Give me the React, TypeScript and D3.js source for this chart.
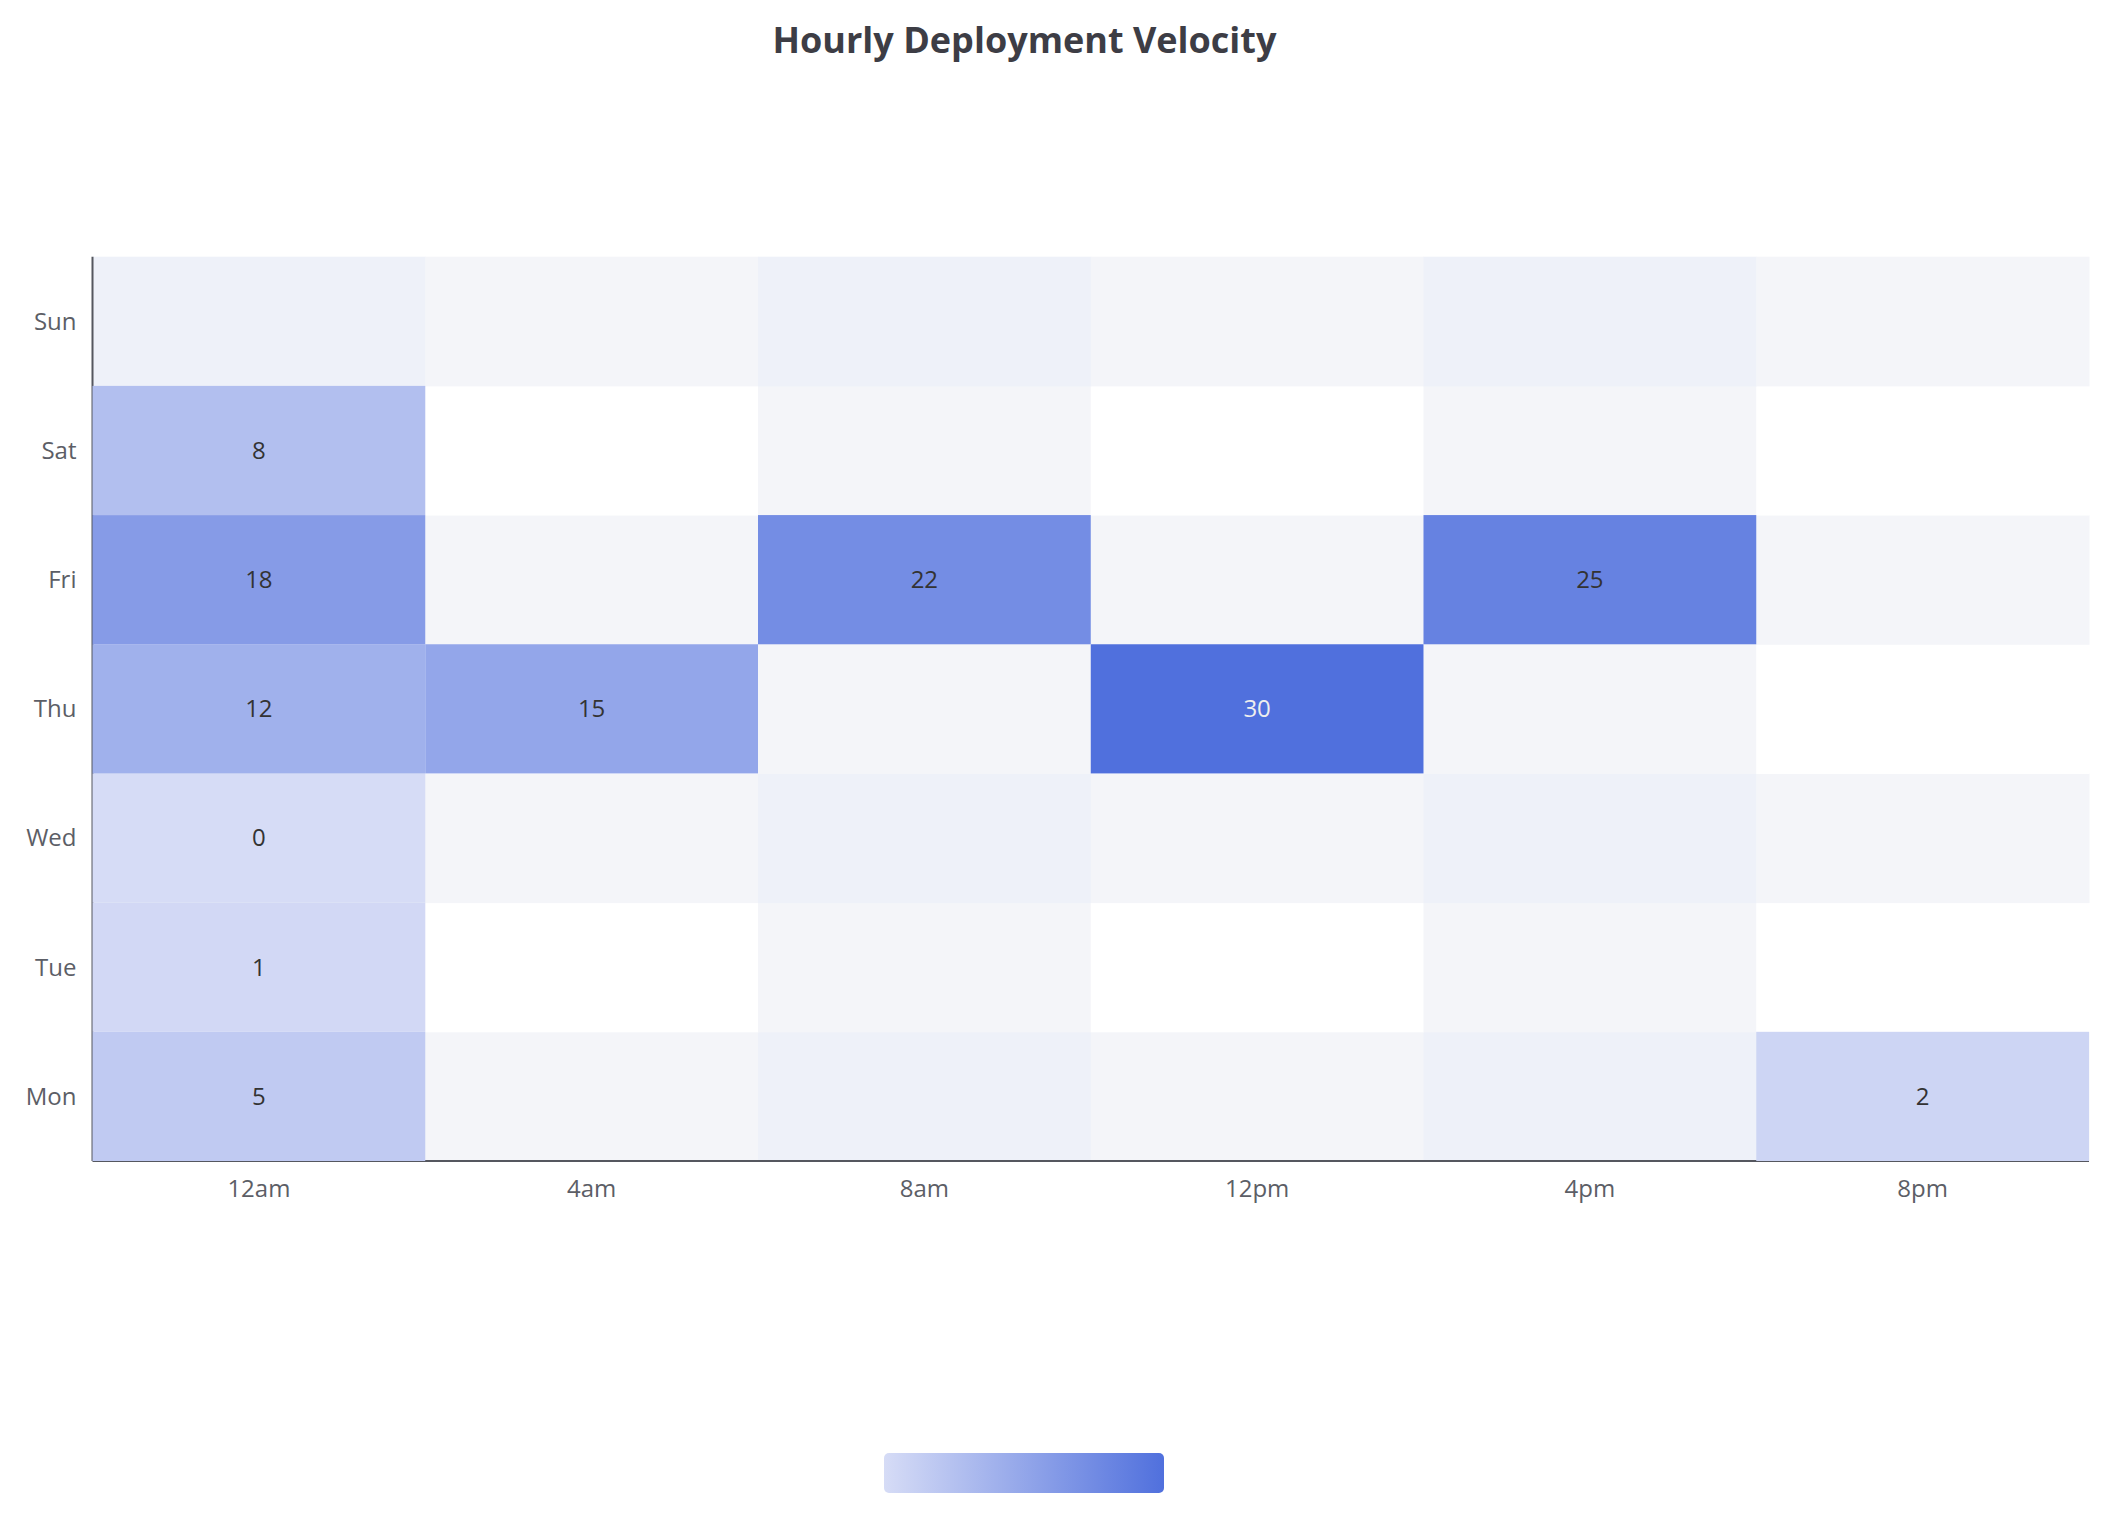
import * as d3 from 'd3';

const days = ['Mon', 'Tue', 'Wed', 'Thu', 'Fri', 'Sat', 'Sun'];
const hours = ['12am', '4am', '8am', '12pm', '4pm', '8pm'];

// [hour, day, deployments]
const deployments: [string, string, number][] = [
  ['12am', 'Mon', 5],
  ['8pm', 'Mon', 2],
  ['12am', 'Tue', 1],
  ['12am', 'Wed', 0],
  ['12am', 'Thu', 12],
  ['4am', 'Thu', 15],
  ['12pm', 'Thu', 30],
  ['12am', 'Fri', 18],
  ['8am', 'Fri', 22],
  ['4pm', 'Fri', 25],
  ['12am', 'Sat', 8],
];

const valueRange = [0, 30];
const rampColors = ['#d6dcf6', '#5070dd'];

const W = 2113;
const H = 1517;
const font = '"Open Sans", "Noto Sans", sans-serif';

const plot = { left: 92.5, right: 2089, top: 256.7, bottom: 1161 };

// split-area shading: no band / one band / both bands crossing
const splitFills = ['#ffffff', '#f4f5f9', '#eef1f9'];

const App = () => {
  const x = d3.scaleBand<string>().domain(hours).range([plot.left, plot.right]);
  const y = d3.scaleBand<string>().domain([...days].reverse()).range([plot.top, plot.bottom]);
  const color = d3.scaleLinear<string>().domain(valueRange).range(rampColors);

  const legend = { x: 884, y: 1453, w: 280, h: 40 };

  return (
    <>
      <style>{'body{margin:0}'}</style>
      <svg width={W} height={H} style={{ display: 'block', background: '#fff' }}>
        <defs>
          <linearGradient id="ramp" x1="0" x2="1" y1="0" y2="0">
            <stop offset="0%" stopColor={rampColors[0]} />
            <stop offset="100%" stopColor={rampColors[1]} />
          </linearGradient>
        </defs>

        <text
          x={W / 2 - 32}
          y={53}
          textAnchor="middle"
          fontFamily={font}
          fontSize={36}
          fontWeight={700}
          fill="#3d3d45"
        >
          Hourly Deployment Velocity
        </text>

        {/* alternating split areas */}
        {days.map((d, di) =>
          hours.map((h, hi) => {
            const n = (di % 2 === 0 ? 1 : 0) + (hi % 2 === 0 ? 1 : 0);
            return (
              <rect
                key={d + h}
                x={x(h)}
                y={y(d)}
                width={x.bandwidth() + 0.5}
                height={y.bandwidth() + 0.5}
                fill={splitFills[n]}
              />
            );
          })
        )}

        {/* axis lines */}
        <line x1={plot.left} x2={plot.left} y1={plot.top} y2={plot.bottom} stroke="#55575f" strokeWidth={2} />
        <line x1={plot.left} x2={plot.right} y1={plot.bottom} y2={plot.bottom} stroke="#55575f" strokeWidth={2} />

        {deployments.map(([h, d, v]) => {
          const c = color(v);
          const light = d3.lab(c).l < 53;
          return (
            <g key={h + d}>
              <rect x={x(h)} y={y(d)} width={x.bandwidth()} height={y.bandwidth()} fill={c} />
              <text
                x={(x(h) ?? 0) + x.bandwidth() / 2}
                y={(y(d) ?? 0) + y.bandwidth() / 2}
                dy="0.35em"
                textAnchor="middle"
                fontFamily={font}
                fontSize={24}
                fill={light ? '#eeeeee' : '#333333'}
              >
                {v}
              </text>
            </g>
          );
        })}

        {days.map((d) => (
          <text
            key={d}
            x={plot.left - 16}
            y={(y(d) ?? 0) + y.bandwidth() / 2}
            dy="0.35em"
            textAnchor="end"
            fontFamily={font}
            fontSize={24}
            fill="#5c5e66"
          >
            {d}
          </text>
        ))}
        {hours.map((h) => (
          <text
            key={h}
            x={(x(h) ?? 0) + x.bandwidth() / 2}
            y={plot.bottom + 28}
            dy="0.35em"
            textAnchor="middle"
            fontFamily={font}
            fontSize={24}
            fill="#5c5e66"
          >
            {h}
          </text>
        ))}

        <rect x={legend.x} y={legend.y} width={legend.w} height={legend.h} rx={5} fill="url(#ramp)" />
      </svg>
    </>
  );
};

export default App;
